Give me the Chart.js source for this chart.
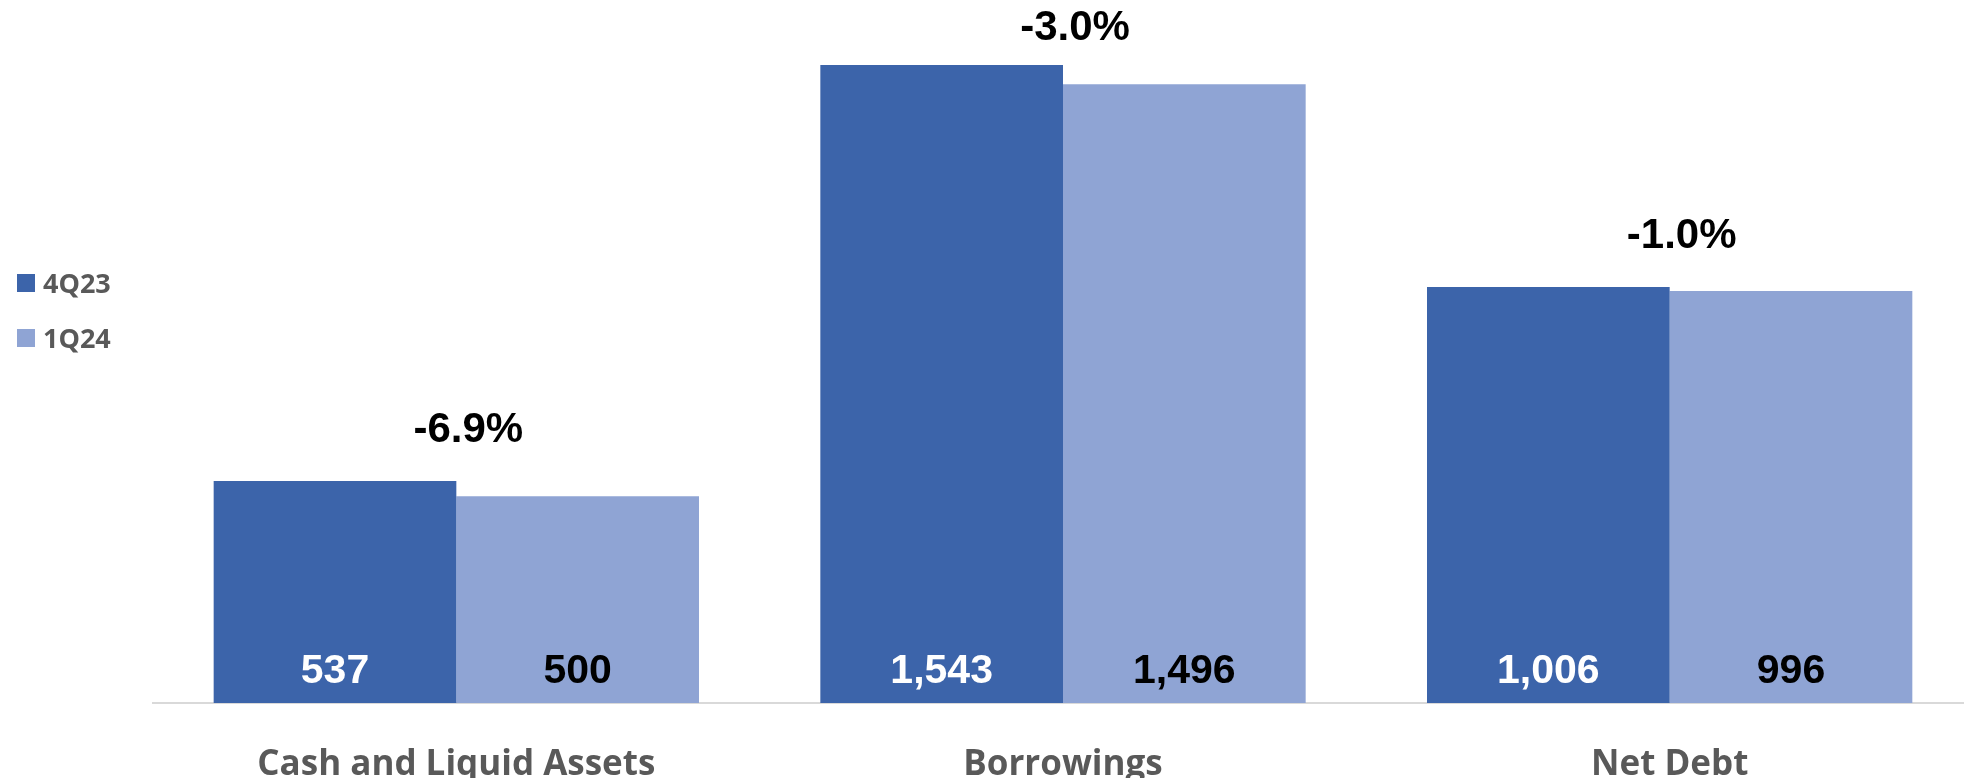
<!DOCTYPE html>
<html>
<head>
<meta charset="utf-8">
<script src="https://cdn.jsdelivr.net/npm/chart.js@4.4.1/dist/chart.umd.min.js"></script>
<style>
html,body{margin:0;padding:0;background:#fff;overflow:hidden;width:1964px;height:778px;}
#wrap{position:relative;width:1973px;height:778px;}
#legend .sw{position:absolute;left:17px;width:18px;height:18px;}
#legend .tx{position:absolute;left:43px;font-family:"Open Sans",sans-serif;font-weight:700;font-size:27px;line-height:27px;color:#595959;white-space:nowrap;}
</style>
</head>
<body>
<div id="wrap">
  <canvas id="c"></canvas>
  <div id="legend"></div>
</div>
<script>
// ---- data ----
const categories = ['Cash and Liquid Assets', 'Borrowings', 'Net Debt'];
const seriesNames = ['4Q23', '1Q24'];
const values4Q23 = [537, 1543, 1006];
const values1Q24 = [500, 1496, 996];
const changeLabels = ['-6.9%', '-3.0%', '-1.0%'];

// ---- styles ----
const barColors = ['#3C64AA', '#8FA4D4'];
const valueColors = ['#FFFFFF', '#000000'];

// HTML legend
const lg = document.getElementById('legend');
seriesNames.forEach((name, i) => {
  const sw = document.createElement('div');
  sw.className = 'sw';
  sw.style.top = (274 + i * 55) + 'px';
  sw.style.background = barColors[i];
  const tx = document.createElement('div');
  tx.className = 'tx';
  tx.style.top = (269 + i * 55) + 'px';
  tx.textContent = name;
  lg.appendChild(sw); lg.appendChild(tx);
});

const labelPlugin = {
  id: 'barLabels',
  afterDatasetsDraw(chart) {
    const ctx = chart.ctx;
    ctx.save();
    ctx.textAlign = 'center';
    ctx.textBaseline = 'alphabetic';
    ctx.font = 'bold 41px "Liberation Sans", Arial, sans-serif';
    chart.data.datasets.forEach((ds, i) => {
      const meta = chart.getDatasetMeta(i);
      meta.data.forEach((bar, j) => {
        ctx.fillStyle = valueColors[i];
        ctx.fillText(ds.data[j].toLocaleString('en-US'), bar.x, bar.base - 20);
      });
    });
    ctx.font = 'bold 42px "Liberation Sans", Arial, sans-serif';
    ctx.fillStyle = '#000000';
    const m0 = chart.getDatasetMeta(0), m1 = chart.getDatasetMeta(1);
    changeLabels.forEach((t, j) => {
      const b0 = m0.data[j], b1 = m1.data[j];
      const x = (b0.x + b1.x) / 2 + 12;
      const top = Math.min(b0.y, b1.y);
      const y = Math.max(top - 39, 40);
      ctx.fillText(t, x, y);
    });
    ctx.restore();
  }
};

new Chart(document.getElementById('c'), {
  type: 'bar',
  data: {
    labels: categories,
    datasets: [
      { label: seriesNames[0], data: values4Q23, backgroundColor: barColors[0], borderWidth: 0 },
      { label: seriesNames[1], data: values1Q24, backgroundColor: barColors[1], borderWidth: 0 }
    ]
  },
  options: {
    responsive: true,
    maintainAspectRatio: false,
    animation: false,
    layout: { padding: { left: 153, right: 0, top: 0, bottom: 0 } },
    datasets: { bar: { categoryPercentage: 0.8, barPercentage: 1.0 } },
    plugins: { legend: { display: false }, tooltip: { enabled: false } },
    scales: {
      x: {
        grid: { display: false, drawTicks: false },
        border: { display: true, color: '#D9D9D9', width: 2 },
        ticks: {
          padding: 41,
          color: '#595959',
          font: { family: '"Open Sans", sans-serif', weight: 'bold', size: 35 },
          maxRotation: 0
        },
        afterFit(scale) { scale.height = 75; }
      },
      y: {
        display: false,
        min: 0,
        max: 1700
      }
    }
  },
  plugins: [labelPlugin]
});
</script>
</body>
</html>
